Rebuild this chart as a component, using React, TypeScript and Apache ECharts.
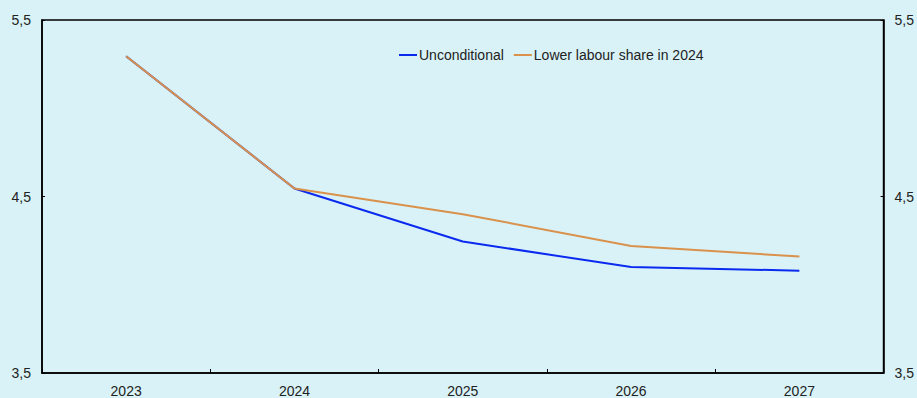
import React, { useEffect, useRef } from "react";
import * as echarts from "echarts";

const categories = ["2023", "2024", "2025", "2026", "2027"];
const unconditional = [5.295, 4.545, 4.245, 4.1, 4.08];
const lowerLabourShare = [5.295, 4.545, 4.4, 4.22, 4.16];
const yTicks = [3.5, 4.5, 5.5];

export default function App() {
  const ref = useRef<HTMLDivElement>(null);
  useEffect(() => {
    document.body.style.margin = "0";
    const chart = echarts.init(ref.current!, null, { renderer: "svg" });
    const fmt = (v: number) => String(v).replace(".", ",");
    const yAxisCommon = {
      type: "value" as const,
      min: 3.5,
      max: 5.5,
      interval: 0.5,
      axisLine: { show: true, lineStyle: { color: "#000", width: 1.5 } },
      axisTick: { show: true, inside: true, length: 3, customValues: yTicks, lineStyle: { color: "#000" } },
      splitLine: { show: false },
      axisLabel: {
        formatter: fmt,
        customValues: yTicks,
        color: "#222",
        fontSize: 14,
        fontFamily: "Liberation Sans",
        margin: 11,
        showMinLabel: true,
        showMaxLabel: true,
      },
    };
    chart.setOption({
      animation: false,
      backgroundColor: "#d9f2f7",
      grid: {
        left: 42,
        right: 31,
        top: 20,
        bottom: 23,
        show: true,
        borderColor: "#000",
        borderWidth: 1.5,
        backgroundColor: "transparent",
      },
      legend: {
        left: 394,
        top: 43,
        icon: "rect",
        itemWidth: 18,
        itemHeight: 2,
        itemGap: 10,
        textStyle: { fontSize: 14, color: "#222", fontFamily: "Liberation Sans", padding: [0, 0, 0, -3] },
        data: [
          { name: "Unconditional" },
          { name: "Lower labour share in 2024" },
        ],
      },
      xAxis: {
        type: "category",
        data: categories,
        boundaryGap: true,
        axisLine: { show: true, lineStyle: { color: "#000", width: 1.5 } },
        axisTick: { show: true, inside: true, length: 4, lineStyle: { color: "#000" } },
        axisLabel: { color: "#222", fontSize: 14, fontFamily: "Liberation Sans", margin: 11 },
      },
      yAxis: [
        { ...yAxisCommon, position: "left" },
        { ...yAxisCommon, position: "right" },
      ],
      series: [
        {
          name: "Unconditional",
          type: "line",
          data: unconditional,
          symbol: "none",
          lineStyle: { color: "#0a2af0", width: 2 },
          itemStyle: { color: "#0a2af0" },
          z: 2,
        },
        {
          name: "Lower labour share in 2024",
          type: "line",
          data: lowerLabourShare,
          symbol: "none",
          lineStyle: { color: "#d9914b", width: 2 },
          itemStyle: { color: "#d9914b" },
          z: 3,
        },
      ],
    });
    return () => chart.dispose();
  }, []);
  return <div ref={ref} style={{ width: 917, height: 398 }} />;
}
